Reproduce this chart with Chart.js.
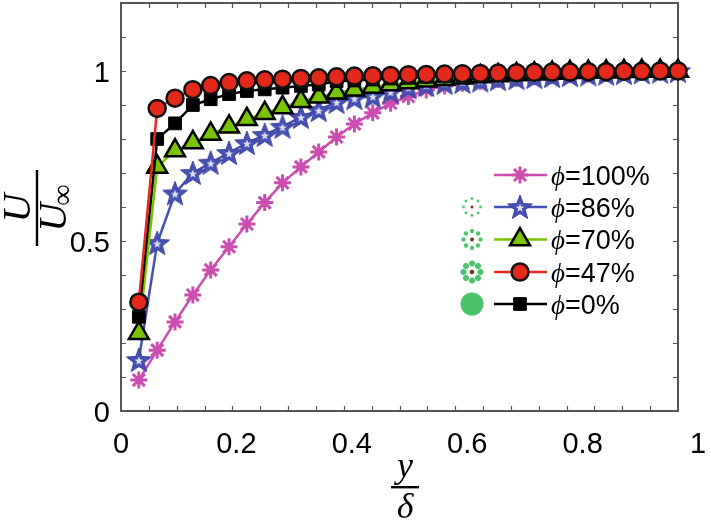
<!DOCTYPE html>
<html>
<head>
<meta charset="utf-8">
<script src="https://cdn.jsdelivr.net/npm/chart.js@4.4.1/dist/chart.umd.min.js"></script>
<style>
  html, body { margin: 0; padding: 0; background: #fff; }
  canvas { display: block; }
</style>
</head>
<body>
<canvas id="chart" width="711" height="524"></canvas>
<script>
// y/delta positions of the measured points
const yOverDelta = [0.032, 0.065, 0.097, 0.129, 0.161, 0.194, 0.226, 0.258, 0.290, 0.323,
  0.355, 0.387, 0.419, 0.452, 0.484, 0.516, 0.548, 0.581, 0.613, 0.645,
  0.677, 0.710, 0.742, 0.774, 0.806, 0.839, 0.871, 0.903, 0.935, 0.968, 1.000];

// U / U_inf for each porosity
const phi100 = [0.091, 0.179, 0.262, 0.341, 0.415, 0.483, 0.550, 0.613, 0.671, 0.718,
  0.762, 0.806, 0.844, 0.877, 0.905, 0.925, 0.944, 0.956, 0.964, 0.970,
  0.975, 0.979, 0.983, 0.986, 0.989, 0.991, 0.993, 0.995, 0.997, 0.998, 1.000];
const phi86 = [0.150, 0.494, 0.640, 0.700, 0.730, 0.759, 0.788, 0.812, 0.836, 0.865,
  0.885, 0.909, 0.920, 0.926, 0.939, 0.952, 0.959, 0.965, 0.968, 0.972,
  0.976, 0.979, 0.982, 0.985, 0.988, 0.990, 0.992, 0.994, 0.996, 0.998, 1.000];
const phi70 = [0.229, 0.718, 0.766, 0.790, 0.815, 0.836, 0.858, 0.876, 0.893, 0.911,
  0.924, 0.936, 0.945, 0.953, 0.960, 0.966, 0.971, 0.976, 0.980, 0.984,
  0.987, 0.990, 0.992, 0.994, 0.996, 0.997, 0.998, 0.999, 1.000, 1.000, 1.000];
const phi47 = [0.320, 0.890, 0.920, 0.945, 0.957, 0.966, 0.971, 0.974, 0.976, 0.978,
  0.980, 0.983, 0.985, 0.986, 0.987, 0.989, 0.990, 0.991, 0.992, 0.993,
  0.994, 0.995, 0.996, 0.997, 0.997, 0.998, 0.998, 0.999, 0.999, 1.000, 1.000];
const phi0 = [0.277, 0.800, 0.846, 0.900, 0.917, 0.932, 0.941, 0.946, 0.951, 0.956,
  0.960, 0.970, 0.972, 0.975, 0.978, 0.980, 0.983, 0.985, 0.987, 0.989,
  0.991, 0.992, 0.993, 0.994, 0.995, 0.996, 0.997, 0.998, 0.999, 1.000, 1.000];

const seriesNames = ['=100%', '=86%', '=70%', '=47%', '=0%'];

const xTickLabels = ['0', '0.2', '0.4', '0.6', '0.8', '1'];
const xTickValues = [0, 0.2, 0.4, 0.6, 0.8, 1];
const yTickLabels = ['0', '0.5', '1'];
const yTickValues = [0, 0.5, 1];

const BLUE = '#4650b2';
const MAGENTA = '#cb4db0';
const GREEN = '#78c400';
const RED = '#e3281c';

function makeStar() {
  const c = document.createElement('canvas');
  c.width = 30; c.height = 30;
  const g = c.getContext('2d');
  const star = (R, r) => {
    g.beginPath();
    for (let i = 0; i < 10; i++) {
      const rad = i % 2 ? r : R;
      const a = -Math.PI / 2 + i * Math.PI / 5;
      g.lineTo(15 + rad * Math.cos(a), 16 + rad * Math.sin(a));
    }
    g.closePath();
  };
  star(13, 5.5);
  g.fillStyle = BLUE; g.fill();
  g.strokeStyle = '#3a4399'; g.lineWidth = 1; g.stroke();
  star(4.4, 1.9);
  g.fillStyle = '#dde0f3'; g.fill();
  return c;
}
const starImg = makeStar();

const pts = (ys) => ys.map((v, i) => ({ x: yOverDelta[i], y: v }));

const datasets = [
  { label: seriesNames[0], data: pts(phi100), borderColor: MAGENTA, borderWidth: 2.5,
    pointStyle: 'star', pointRadius: 8.5, pointBorderWidth: 3,
    pointBorderColor: MAGENTA, pointBackgroundColor: MAGENTA, order: 4 },
  { label: seriesNames[1], data: pts(phi86), borderColor: BLUE, borderWidth: 2.5,
    pointStyle: starImg, pointRadius: 12, order: 3 },
  { label: seriesNames[2], data: pts(phi70), borderColor: GREEN, borderWidth: 2.5,
    pointStyle: 'triangle', pointRadius: 11.5, pointBorderWidth: 2.5,
    pointBorderColor: '#000', pointBackgroundColor: GREEN, order: 2 },
  { label: seriesNames[3], data: pts(phi47), borderColor: RED, borderWidth: 2.5,
    pointStyle: 'circle', pointRadius: 8.5, pointBorderWidth: 2.5,
    pointBorderColor: '#111', pointBackgroundColor: RED, order: 0 },
  { label: seriesNames[4], data: pts(phi0), borderColor: '#000', borderWidth: 2.5,
    pointStyle: 'rect', pointRadius: 9, pointBorderWidth: 1,
    pointBorderColor: '#000', pointBackgroundColor: '#000', order: 1 },
];
datasets.forEach(d => { d.showLine = true; d.clip = false; d.tension = 0; });

// box, inward ticks and tick labels
const frame = {
  id: 'frame',
  beforeDatasetsDraw(chart) {
    const { ctx, chartArea: a, scales: { x, y } } = chart;
    ctx.save();
    ctx.strokeStyle = '#555';
    ctx.lineWidth = 1.2;
    ctx.beginPath();
    for (let i = 1; i < 20; i++) {
      const px = Math.round(x.getPixelForValue(i * 0.05)) + 0.5;
      ctx.moveTo(px, a.bottom); ctx.lineTo(px, a.bottom - 5);
      ctx.moveTo(px, a.top); ctx.lineTo(px, a.top + 5);
    }
    for (let i = 1; i < 12; i++) {
      const py = Math.round(y.getPixelForValue(i * 0.1)) + 0.5;
      ctx.moveTo(a.left, py); ctx.lineTo(a.left + 5, py);
      ctx.moveTo(a.right, py); ctx.lineTo(a.right - 5, py);
    }
    ctx.stroke();
    ctx.lineWidth = 2;
    ctx.strokeRect(a.left, a.top, a.right - a.left, a.bottom - a.top);

    ctx.fillStyle = '#000';
    ctx.font = '29px "Liberation Sans", Arial, sans-serif';
    ctx.textBaseline = 'alphabetic';
    ctx.textAlign = 'center';
    xTickValues.forEach((v, i) => {
      // labels sit slightly stretched against the box, as in the figure
      const px = x.getPixelForValue(v) + v * 20;
      ctx.fillText(xTickLabels[i], px, a.bottom + 42);
    });
    ctx.textAlign = 'right';
    yTickValues.forEach((v, i) => {
      ctx.fillText(yTickLabels[i], a.left - 11, y.getPixelForValue(v) + 10.5);
    });
    ctx.restore();
  },
  afterDraw(chart) {
    const { ctx } = chart;
    ctx.save();
    ctx.fillStyle = '#000';
    const serif = '"Liberation Serif", "DejaVu Serif", serif';

    // x title: y over delta
    ctx.textAlign = 'center';
    ctx.font = 'italic 36px ' + serif;
    ctx.fillText('y', 405, 477);
    ctx.fillRect(391, 486, 28, 2.4);
    ctx.fillText('δ', 405, 518);

    // y title: U over U_inf, rotated
    ctx.translate(37, 208);
    ctx.rotate(-Math.PI / 2);
    ctx.fillRect(-38, -1.2, 76, 2.4);
    ctx.font = 'italic 40px ' + serif;
    ctx.fillText('U', 0, -7);
    const wU = ctx.measureText('U').width;
    ctx.font = '30px ' + serif;
    const wInf = ctx.measureText('∞').width;
    const start = -(wU + wInf - 3) / 2;
    ctx.textAlign = 'left';
    ctx.font = 'italic 40px ' + serif;
    ctx.fillText('U', start, 29);
    ctx.font = '30px ' + serif;
    ctx.fillText('∞', start + wU - 3, 35);
    ctx.restore();

    // legend
    const dp = Chart.helpers && Chart.helpers.drawPoint;
    const rows = [175, 207, 239.5, 272, 304];
    ctx.save();
    chart.data.datasets.forEach((d, i) => {
      const ry = rows[i];
      ctx.strokeStyle = d.borderColor;
      ctx.lineWidth = d.borderWidth;
      ctx.beginPath();
      ctx.moveTo(494, ry); ctx.lineTo(547, ry);
      ctx.stroke();
      if (dp) {
        ctx.fillStyle = d.pointBackgroundColor || d.borderColor;
        ctx.strokeStyle = d.pointBorderColor || d.borderColor;
        ctx.lineWidth = d.pointBorderWidth || 1;
        dp(ctx, { pointStyle: d.pointStyle, rotation: 0, radius: d.pointRadius,
          borderWidth: d.pointBorderWidth || 0 }, 520, ry);
      }
      ctx.fillStyle = '#000';
      ctx.textAlign = 'left';
      ctx.font = 'italic 27px ' + serif;
      ctx.fillText('ϕ', 551, ry + 9.5);
      const wp = ctx.measureText('ϕ').width;
      ctx.font = '27px "Liberation Sans", Arial, sans-serif';
      ctx.fillText(d.label, 551 + wp, ry + 9.5);
    });

    // porous-cylinder icons next to the legend
    const G = '#4cc46c', BR = '#6a3a12';
    const ring = (cy, dotR, centerR) => {
      for (let k = 0; k < 8; k++) {
        const a = k * Math.PI / 4;
        ctx.beginPath();
        ctx.arc(472 + 8.5 * Math.cos(a), cy + 8.5 * Math.sin(a), dotR, 0, Math.PI * 2);
        ctx.fillStyle = G; ctx.fill();
      }
      ctx.beginPath();
      ctx.arc(472, cy, centerR, 0, Math.PI * 2);
      ctx.fillStyle = BR; ctx.fill();
    };
    ring(rows[1], 1.4, 1.5);
    ring(rows[2], 2.2, 2);
    ring(rows[3], 3.0, 2.3);
    ctx.beginPath();
    ctx.arc(472, rows[4], 11.5, 0, Math.PI * 2);
    ctx.fillStyle = G; ctx.fill();
    ctx.restore();
  }
};

new Chart(document.getElementById('chart'), {
  type: 'scatter',
  data: { datasets },
  options: {
    responsive: false,
    animation: false,
    events: [],
    layout: { autoPadding: false, padding: { left: 121, right: 33, top: 3, bottom: 113 } },
    scales: {
      x: { type: 'linear', min: 0, max: 1, display: false },
      y: { type: 'linear', min: 0, max: 1.2, display: false }
    },
    plugins: { legend: { display: false }, tooltip: { enabled: false } }
  },
  plugins: [frame]
});
</script>
</body>
</html>
